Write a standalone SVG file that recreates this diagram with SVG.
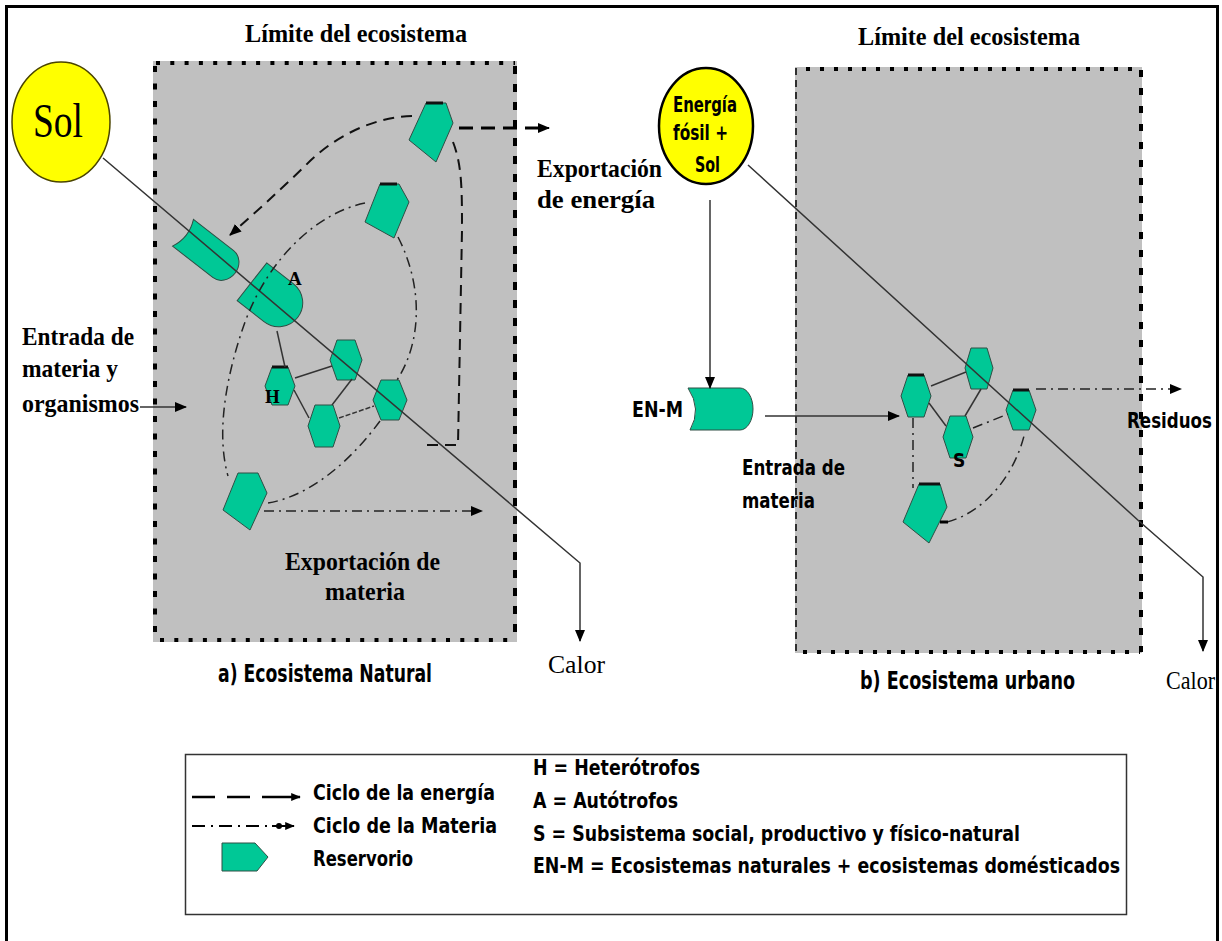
<svg xmlns="http://www.w3.org/2000/svg" width="1222" height="941" viewBox="0 0 1222 941">
<defs>
<marker id="arr" viewBox="0 0 12 10" refX="11" refY="5" markerWidth="12" markerHeight="10" markerUnits="userSpaceOnUse" orient="auto"><path d="M0,0 L12,5 L0,10 Z" fill="#000"/></marker>
<marker id="arrs" viewBox="0 0 12 10" refX="11" refY="5" markerWidth="10" markerHeight="8" markerUnits="userSpaceOnUse" orient="auto"><path d="M0,0 L12,5 L0,10 Z" fill="#000"/></marker>
</defs>
<style>
.serif{font-family:'Liberation Serif','Times New Roman',serif;font-weight:bold;fill:#000}
.serifr{font-family:'Liberation Serif','Times New Roman',serif;fill:#000}
.cond{font-family:'DejaVu Sans Condensed','DejaVu Sans',sans-serif;font-weight:bold;fill:#000}
.res{fill:#00c896;stroke:#2f4f45;stroke-width:1}
.edge{stroke:#111;stroke-width:3;fill:none}
.main{fill:none;stroke:#333;stroke-width:1.5}
.en{fill:none;stroke:#111;stroke-width:2;stroke-dasharray:11 7}
.mat{fill:none;stroke:#222;stroke-width:1.5;stroke-dasharray:10 5 2 5}
.link{fill:none;stroke:#333;stroke-width:1.5}
.box{fill:#c0c0c0}
.dots{fill:none;stroke:#000;stroke-width:4}
.sun{fill:#ffff00}
</style>
<rect x="0" y="0" width="1222" height="941" fill="#fff"/>
<path d="M6.5,945 L6.5,6.5 L1217.5,6.5 L1217.5,945" fill="none" stroke="#000" stroke-width="3"/>

<g id="limite-a">
<rect class="box" x="153" y="61" width="364" height="581"/>
<line class="dots" x1="156" y1="63" x2="515" y2="63" stroke-dasharray="4 10.3"/>
<line class="dots" x1="155" y1="66" x2="155" y2="640" stroke-dasharray="6 11.5"/>
<line class="dots" x1="515" y1="66" x2="515" y2="640" stroke-width="3.5" stroke-dasharray="8 10"/>
<line class="dots" x1="160" y1="640" x2="515" y2="640" stroke-dasharray="4 10.3"/>
<text class="serif" x="245" y="42" font-size="26" textLength="222" lengthAdjust="spacingAndGlyphs">Límite del ecosistema</text>
</g>

<g id="limite-b">
<rect class="box" x="795" y="67" width="347" height="586"/>
<line class="dots" x1="806" y1="69" x2="1140" y2="69" stroke-dasharray="4 10"/>
<line x1="796" y1="68" x2="796" y2="652" stroke="#000" stroke-width="1.5" stroke-dasharray="7 5"/>
<line class="dots" x1="1141" y1="70" x2="1141" y2="652" stroke-width="3.5" stroke-dasharray="7 11"/>
<line class="dots" x1="803" y1="652" x2="1140" y2="652" stroke-dasharray="4 10"/>
<text class="serif" x="858" y="45" font-size="26" textLength="222" lengthAdjust="spacingAndGlyphs">Límite del ecosistema</text>
</g>

<g id="sol">
<ellipse class="sun" cx="61" cy="122" rx="49" ry="60" stroke="#4a4400" stroke-width="1.5"/>
<text class="serifr" x="33" y="137" font-size="48" fill="#1a1000" textLength="50" lengthAdjust="spacingAndGlyphs">Sol</text>
</g>

<g id="energia-fosil">
<ellipse class="sun" cx="706" cy="126" rx="47" ry="58" stroke="#000" stroke-width="2.5"/>
<text class="cond" x="673" y="112" font-size="21" textLength="64" lengthAdjust="spacingAndGlyphs">Energía</text>
<text class="cond" x="673" y="140" font-size="21" textLength="55" lengthAdjust="spacingAndGlyphs">fósil +</text>
<text class="cond" x="695" y="172" font-size="21" textLength="25" lengthAdjust="spacingAndGlyphs">Sol</text>
</g>

<g id="reservorio-1">
<polygon class="res" points="426,103 446,103 453,123 436,162 409,140"/>
<line class="edge" x1="426" y1="103" x2="443" y2="103"/>
</g>
<g id="reservorio-2">
<polygon class="res" points="380,184 399,184 409,202 394,238 365,222"/>
<line class="edge" x1="380" y1="184" x2="397" y2="184" stroke="#555"/>
</g>
<g id="reservorio-3">
<polygon class="res" points="238,473 258,473 267,493 250,530 223,510"/>
</g>
<g id="entrada-a">
<path class="res" transform="translate(209,253) rotate(38)" d="M-33,-17 L18,-17 A15,17 0 0 1 18,17 L-33,17 Q-25,0 -33,-17 Z"/>
</g>
<g id="autotrofos">
<path class="res" transform="translate(274,299) rotate(38)" d="M-28,-24 L6,-24 A24,24 0 0 1 6,24 L-28,24 Z"/>
<text class="serif" x="288" y="285" font-size="19" fill="#1c1c5a">A</text>
</g>
<g id="heterotrofos">
<polygon class="res" points="272,367 288,367 295,386 288,405 272,405 265,386"/>
<line class="edge" x1="272" y1="367" x2="288" y2="367"/>
<text class="serif" x="265" y="403" font-size="19" fill="#0a2a1a">H</text>
</g>
<g id="hex-a1">
<polygon class="res" points="337,340 355,340 362,360 355,380 337,380 330,360"/>
</g>
<g id="hex-a2">
<polygon class="res" points="315,405 333,405 340,426 333,447 315,447 308,426"/>
</g>
<g id="hex-a3">
<polygon class="res" points="381,380 399,380 407,400 399,420 381,420 373,400"/>
</g>

<g id="en-m">
<path class="res" stroke-width="1.5" d="M688,388 L740,388 A13,21 0 0 1 740,430 L690,430 Q702,409 688,388 Z"/>
<text class="cond" x="632" y="417" font-size="21" textLength="51" lengthAdjust="spacingAndGlyphs">EN-M</text>
</g>
<g id="hex-b1">
<polygon class="res" points="908,375 924,375 931,396 924,417 908,417 901,396"/>
<line class="edge" x1="908" y1="375" x2="924" y2="375"/>
</g>
<g id="hex-b2">
<polygon class="res" points="971,348 987,348 993,368 987,389 971,389 965,368"/>
</g>
<g id="hex-b3">
<polygon class="res" points="1013,390 1029,390 1036,410 1029,430 1013,430 1006,410"/>
<line class="edge" x1="1013" y1="390" x2="1029" y2="390"/>
</g>
<g id="subsistema">
<polygon class="res" points="950,416 966,416 973,437 966,458 950,458 943,437"/>
<text class="cond" x="953" y="467" font-size="19">S</text>
</g>
<g id="reservorio-b">
<polygon class="res" points="919,484 940,484 947,507 929,543 903,522"/>
<line class="edge" x1="919" y1="484" x2="940" y2="484" stroke="#777"/>
</g>

<g id="connectors">
<polyline class="main" points="103,158 580,563 580,641" marker-end="url(#arr)"/>
<polyline class="main" points="748,165 1140,522 1203,577 1203,651" marker-end="url(#arr)"/>
<path class="en" d="M412,116 C375,117 335,135 305,166 C280,190 255,213 230,235" marker-end="url(#arr)"/>
<path class="en" d="M453,142 C462,165 462,190 462,230 L458,445 L425,445"/>
<line x1="459" y1="128" x2="538" y2="128" stroke="#000" stroke-width="3" stroke-dasharray="14 8"/>
<line x1="538" y1="128" x2="549" y2="128" stroke="#000" stroke-width="2" marker-end="url(#arr)"/>
<path class="mat" d="M365,203 C320,212 270,255 245,322 C228,370 215,430 228,476"/>
<path class="mat" d="M398,237 C425,290 420,345 397,380"/>
<path class="mat" d="M380,421 C355,455 315,495 268,503"/>
<line class="mat" x1="264" y1="511" x2="482" y2="511" marker-end="url(#arr)"/>
<line class="link" x1="277" y1="331" x2="285" y2="367"/>
<line class="link" x1="295" y1="378" x2="332" y2="366"/>
<line class="link" x1="294" y1="390" x2="309" y2="418"/>
<line class="link" x1="352" y1="379" x2="332" y2="405"/>
<line class="link" x1="339" y1="418" x2="374" y2="406" stroke-dasharray="5 2"/>
<line class="link" x1="140" y1="407" x2="186" y2="407" marker-end="url(#arr)"/>
<line class="link" x1="710" y1="200" x2="710" y2="388" marker-end="url(#arr)"/>
<line class="link" x1="765" y1="416" x2="899" y2="416" marker-end="url(#arr)"/>
<line class="link" x1="931" y1="386" x2="966" y2="372"/>
<line class="link" x1="929" y1="403" x2="946" y2="426"/>
<line class="link" x1="981" y1="389" x2="965" y2="416"/>
<line class="mat" x1="973" y1="428" x2="1008" y2="414"/>
<line class="mat" x1="913" y1="418" x2="913" y2="488"/>
<path class="mat" d="M947,522 C985,512 1015,475 1025,432"/>
<line x1="940" y1="522" x2="948" y2="522" stroke="#000" stroke-width="3"/>
<line class="mat" x1="1036" y1="389" x2="1181" y2="389" marker-end="url(#arr)"/>
</g>

<g id="labels">
<text class="serif" x="537" y="177" font-size="25" textLength="125" lengthAdjust="spacingAndGlyphs">Exportación</text>
<text class="serif" x="537" y="208" font-size="25" textLength="118" lengthAdjust="spacingAndGlyphs">de energía</text>
<text class="serif" x="22" y="345" font-size="25" textLength="112" lengthAdjust="spacingAndGlyphs">Entrada de</text>
<text class="serif" x="22" y="377" font-size="25" textLength="96" lengthAdjust="spacingAndGlyphs">materia y</text>
<text class="serif" x="22" y="412" font-size="25" textLength="117" lengthAdjust="spacingAndGlyphs">organismos</text>
<text class="serif" x="285" y="570" font-size="25" textLength="155" lengthAdjust="spacingAndGlyphs">Exportación de</text>
<text class="serif" x="325" y="600" font-size="25" textLength="80" lengthAdjust="spacingAndGlyphs">materia</text>
<text class="serifr" x="548" y="673" font-size="26" textLength="57" lengthAdjust="spacingAndGlyphs">Calor</text>
<text class="serifr" x="1166" y="689" font-size="26" textLength="49" lengthAdjust="spacingAndGlyphs">Calor</text>
<text class="cond" x="218" y="682" font-size="25" textLength="214" lengthAdjust="spacingAndGlyphs">a) Ecosistema Natural</text>
<text class="cond" x="860" y="689" font-size="25" textLength="215" lengthAdjust="spacingAndGlyphs">b) Ecosistema urbano</text>
<text class="cond" x="742" y="475" font-size="21" textLength="103" lengthAdjust="spacingAndGlyphs">Entrada de</text>
<text class="cond" x="742" y="508" font-size="21" textLength="73" lengthAdjust="spacingAndGlyphs">materia</text>
<text class="cond" x="1127" y="428" font-size="21" textLength="85" lengthAdjust="spacingAndGlyphs">Residuos</text>
</g>

<g id="legend">
<rect x="185.5" y="754.5" width="941" height="160" fill="#fff" stroke="#333" stroke-width="1.5"/>
<line x1="192" y1="797" x2="252" y2="797" stroke="#000" stroke-width="2.5" stroke-dasharray="23 12"/>
<line x1="262" y1="797" x2="300" y2="797" stroke="#000" stroke-width="2.5" marker-end="url(#arrs)"/>
<line x1="192" y1="826" x2="268" y2="826" stroke="#000" stroke-width="2" stroke-dasharray="13 6 2 6"/>
<line x1="272" y1="826" x2="294" y2="826" stroke="#000" stroke-width="2" marker-end="url(#arrs)"/>
<circle cx="279" cy="826" r="3" fill="#000"/>
<polygon class="res" points="222,843 255,843 268,857 257,871 222,871"/>
<text class="cond" x="313" y="800" font-size="22" textLength="182" lengthAdjust="spacingAndGlyphs">Ciclo de la energía</text>
<text class="cond" x="313" y="833" font-size="22" textLength="184" lengthAdjust="spacingAndGlyphs">Ciclo de la Materia</text>
<text class="cond" x="313" y="866" font-size="22" textLength="100" lengthAdjust="spacingAndGlyphs">Reservorio</text>
<text class="cond" x="533" y="775" font-size="22" textLength="167" lengthAdjust="spacingAndGlyphs">H = Heterótrofos</text>
<text class="cond" x="533" y="808" font-size="22" textLength="145" lengthAdjust="spacingAndGlyphs">A = Autótrofos</text>
<text class="cond" x="533" y="841" font-size="22" textLength="487" lengthAdjust="spacingAndGlyphs">S = Subsistema social, productivo y físico-natural</text>
<text class="cond" x="533" y="873" font-size="22" textLength="587" lengthAdjust="spacingAndGlyphs">EN-M = Ecosistemas naturales + ecosistemas domésticados</text>
</g>
</svg>
